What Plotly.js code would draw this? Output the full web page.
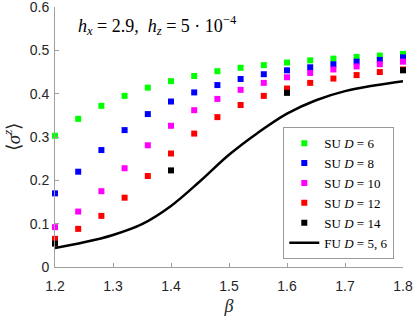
<!DOCTYPE html>
<html>
<head>
<meta charset="utf-8">
<script src="https://cdn.plot.ly/plotly-3.0.1.min.js"></script>
<style>html,body{margin:0;padding:0;background:#fff;}#chart{width:415px;height:317px;}</style>
</head>
<body>
<div id="chart"></div>
<script>
// SU data: beta grid and <sigma^z> values
var beta = [1.20,1.24,1.28,1.32,1.36,1.40,1.44,1.48,1.52,1.56,1.60,1.64,1.68,1.72,1.76,1.80];
var suD6  = [0.303,0.342,0.372,0.395,0.414,0.429,0.441,0.452,0.460,0.466,0.472,0.477,0.481,0.485,0.488,0.492];
var suD8  = [0.170,0.220,0.270,0.316,0.353,0.382,0.403,0.420,0.434,0.445,0.454,0.461,0.468,0.474,0.478,0.484];
var suD10 = [0.092,0.128,0.175,0.228,0.281,0.326,0.362,0.388,0.409,0.425,0.438,0.448,0.456,0.463,0.468,0.474];
var suD12 = [0.065,0.088,0.118,0.160,0.210,0.262,0.308,0.346,0.374,0.395,0.412,0.425,0.435,0.443,0.450,0.456];
var betaD14 = [1.2,1.4,1.6,1.8];
var suD14 = [0.054,0.223,0.402,0.454];
// FU curve
var betaFU = [1.20,1.25,1.30,1.35,1.40,1.45,1.50,1.55,1.60,1.65,1.70,1.75,1.80];
var fuD56  = [0.044,0.057,0.074,0.099,0.141,0.198,0.259,0.310,0.354,0.385,0.406,0.419,0.429];
// tick labels
var xTickVals = [1.2,1.3,1.4,1.5,1.6,1.7,1.8];
var xTickText = ['1.2','1.3','1.4','1.5','1.6','1.7','1.8'];
var yTickVals = [0,0.1,0.2,0.3,0.4,0.5,0.6];
var yTickText = ['0','0.1','0.2','0.3','0.4','0.5','0.6'];

var serif = 'Liberation Serif, Times New Roman, serif';
var sans = 'Liberation Sans, Arial, sans-serif';

function su(x, y, name, color) {
  return {x: x, y: y, type: 'scatter', mode: 'markers', name: name, cliponaxis: false,
    marker: {symbol: 'square', size: 6, color: color, line: {width: 0}}};
}
var traces = [
  su(beta, suD6, 'SU <i>D</i> = 6', '#00ff00'),
  su(beta, suD8, 'SU <i>D</i> = 8', '#0000ff'),
  su(beta, suD10, 'SU <i>D</i> = 10', '#ff00ff'),
  su(beta, suD12, 'SU <i>D</i> = 12', '#ff0000'),
  su(betaD14, suD14, 'SU <i>D</i> = 14', '#000000'),
  {x: betaFU, y: fuD56, type: 'scatter', mode: 'lines', name: 'FU <i>D</i> = 5, 6',
    line: {color: '#000000', width: 2.5, shape: 'spline', smoothing: 1}}
];

var axisCommon = {
  showline: true, linecolor: '#a0a0a0', linewidth: 1, mirror: false,
  ticks: 'inside', ticklen: 4, tickcolor: '#a0a0a0', tickwidth: 1,
  showgrid: false, zeroline: false, tickmode: 'array',
  tickfont: {family: sans, size: 14, color: '#262626'}
};

var layout = {
  width: 415, height: 317,
  margin: {l: 55, r: 12, t: 7, b: 50},
  paper_bgcolor: '#fff', plot_bgcolor: '#fff',
  showlegend: true,
  xaxis: Object.assign({}, axisCommon, {range: [1.2, 1.8], tickvals: xTickVals, ticktext: xTickText,
    ticklabelstandoff: 6,
    title: {text: '<i>β</i>', font: {family: serif, size: 18, color: '#262626'}, standoff: 6}}),
  yaxis: Object.assign({}, axisCommon, {range: [0, 0.6002], tickvals: yTickVals, ticktext: yTickText,
    ticklabelstandoff: 2, ticklabeloverflow: 'allow',
    title: {text: '⟨<i>σ</i><sup><i>z</i></sup>⟩', font: {family: serif, size: 19, color: '#262626'}, standoff: 6}}),
  legend: {x: 0.975, xanchor: 'right', y: 0.03, yanchor: 'bottom',
    bgcolor: '#ffffff', bordercolor: '#999999', borderwidth: 1,
    font: {family: serif, size: 13, color: '#000'}},
  annotations: [{
    xref: 'paper', yref: 'paper', x: 0.06, y: 0.985, xanchor: 'left', yanchor: 'top',
    showarrow: false,
    text: '<i>h</i><sub><i>x</i></sub> = 2.9,  <i>h</i><sub><i>z</i></sub> = 5 · 10<sup>−4</sup>',
    font: {family: serif, size: 18, color: '#000'}
  }]
};

Plotly.newPlot('chart', traces, layout, {displayModeBar: false, staticPlot: true});
</script>
</body>
</html>
